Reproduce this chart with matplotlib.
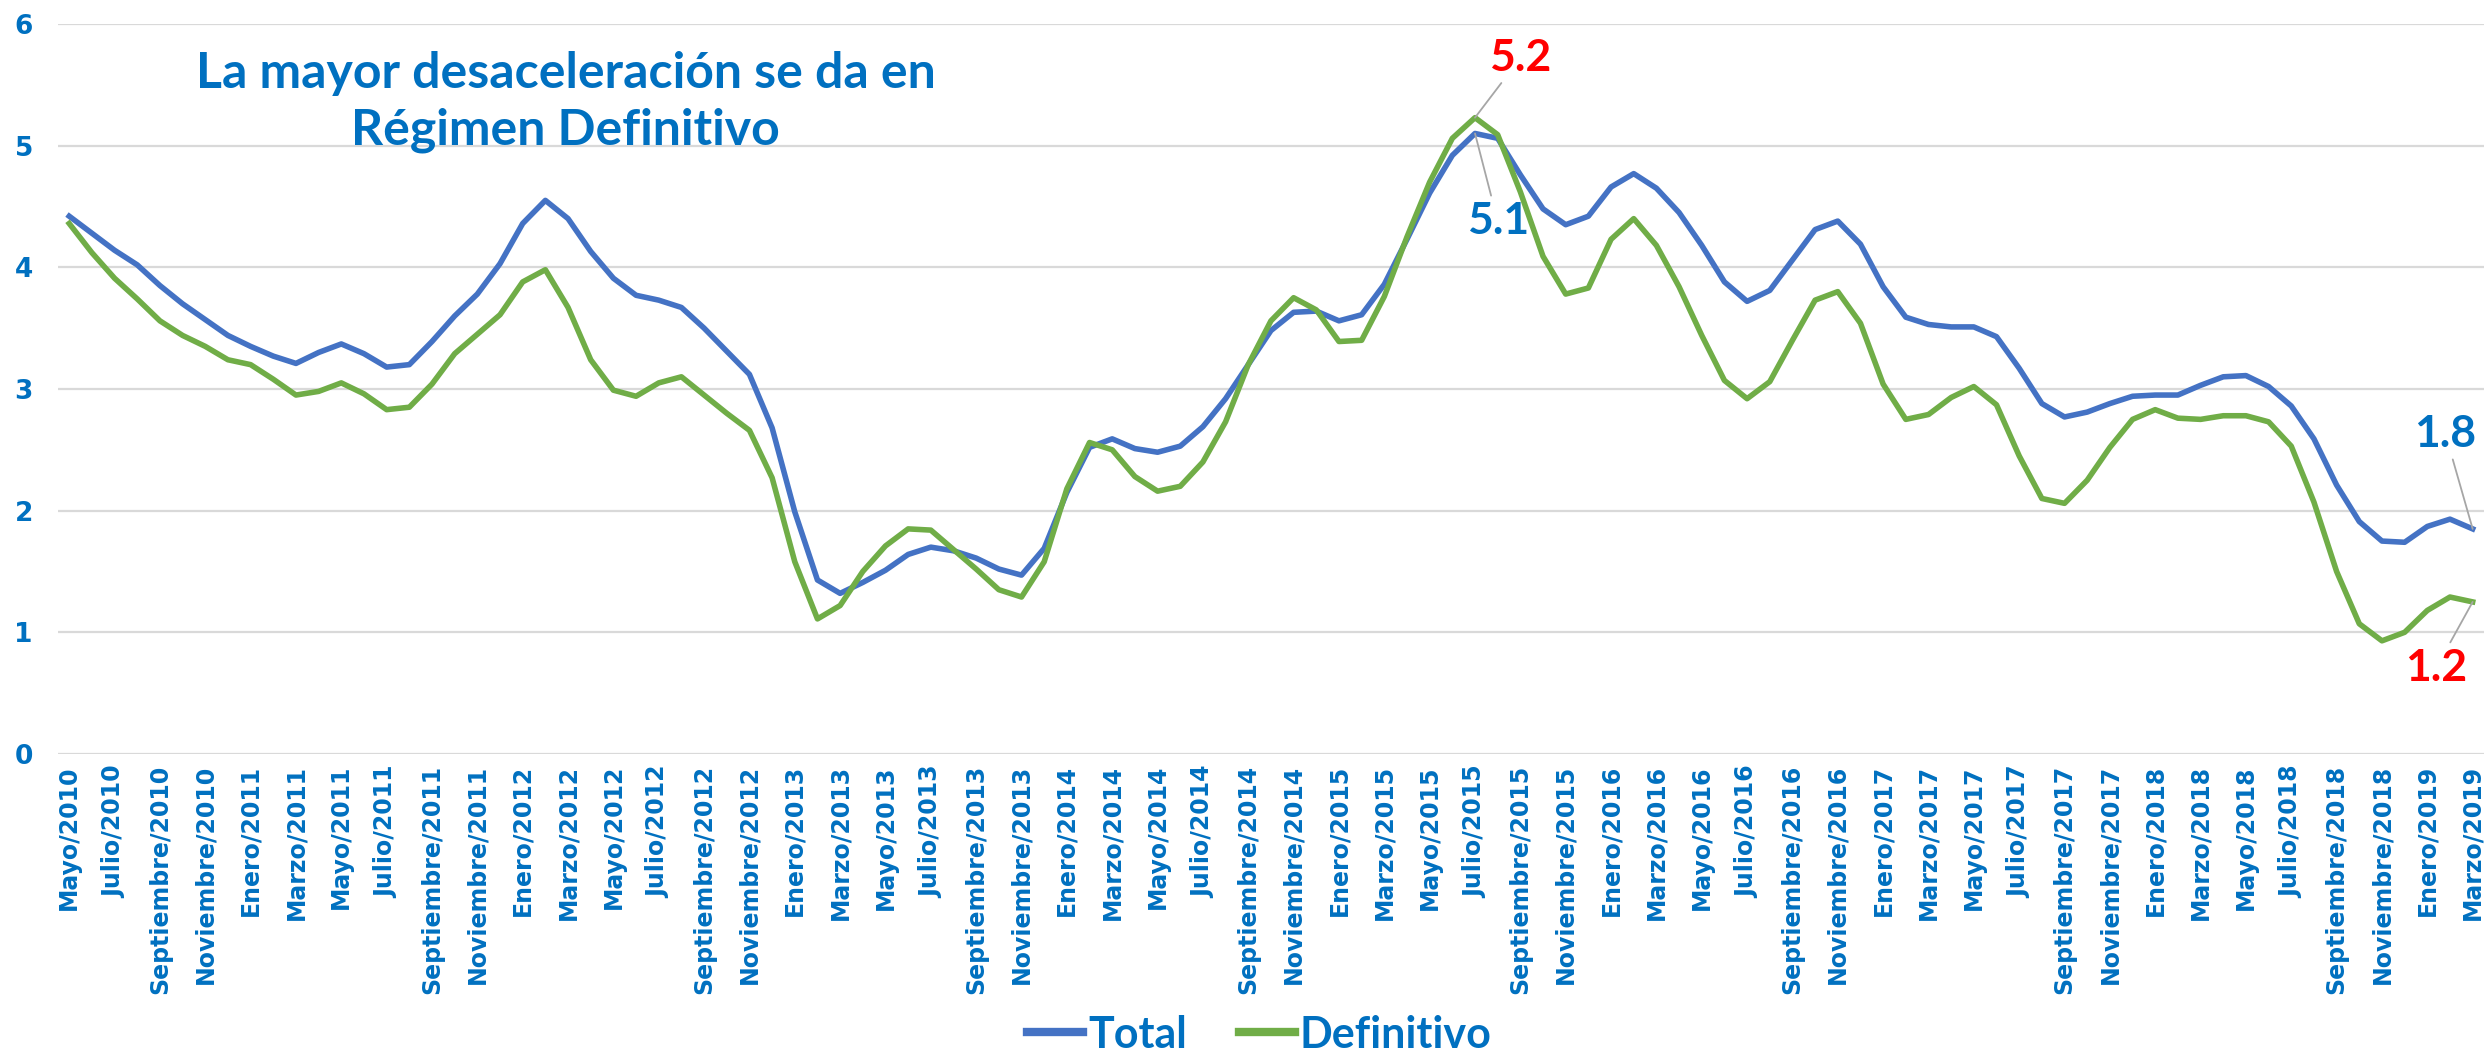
import matplotlib
matplotlib.use("Agg")
import matplotlib.pyplot as plt

# monthly series, Mayo/2010 .. Marzo/2019
meses = ['Enero', 'Febrero', 'Marzo', 'Abril', 'Mayo', 'Junio', 'Julio',
         'Agosto', 'Septiembre', 'Octubre', 'Noviembre', 'Diciembre']
etiquetas = []
for k in range(107):
    m = (4 + k) % 12
    anio = 2010 + (4 + k) // 12
    etiquetas.append(meses[m] + '/' + str(anio))

total = [4.42, 4.28, 4.14, 4.02, 3.85, 3.70, 3.57, 3.44, 3.35, 3.27,
         3.21, 3.30, 3.37, 3.29, 3.18, 3.20, 3.39, 3.60, 3.78, 4.03,
         4.36, 4.55, 4.40, 4.13, 3.91, 3.77, 3.73, 3.67, 3.50, 3.31,
         3.12, 2.68, 1.99, 1.43, 1.32, 1.41, 1.51, 1.64, 1.70, 1.67,
         1.61, 1.52, 1.47, 1.69, 2.15, 2.52, 2.59, 2.51, 2.48, 2.53,
         2.69, 2.92, 3.20, 3.48, 3.63, 3.64, 3.56, 3.61, 3.86, 4.23,
         4.61, 4.92, 5.10, 5.06, 4.76, 4.48, 4.35, 4.42, 4.66, 4.77,
         4.65, 4.45, 4.18, 3.88, 3.72, 3.81, 4.06, 4.31, 4.38, 4.19,
         3.84, 3.59, 3.53, 3.51, 3.51, 3.43, 3.17, 2.88, 2.77, 2.81,
         2.88, 2.94, 2.95, 2.95, 3.03, 3.10, 3.11, 3.02, 2.86, 2.59,
         2.21, 1.91, 1.75, 1.74, 1.87, 1.93, 1.85]

definitivo = [4.36, 4.12, 3.91, 3.74, 3.56, 3.44, 3.35, 3.24, 3.20, 3.08,
              2.95, 2.98, 3.05, 2.96, 2.83, 2.85, 3.04, 3.29, 3.45, 3.61,
              3.88, 3.98, 3.67, 3.24, 2.99, 2.94, 3.05, 3.10, 2.95, 2.80,
              2.66, 2.27, 1.58, 1.11, 1.22, 1.50, 1.71, 1.85, 1.84, 1.68,
              1.52, 1.35, 1.29, 1.58, 2.18, 2.56, 2.50, 2.28, 2.16, 2.20,
              2.40, 2.73, 3.20, 3.56, 3.75, 3.65, 3.39, 3.40, 3.76, 4.25,
              4.70, 5.06, 5.23, 5.09, 4.62, 4.09, 3.78, 3.83, 4.23, 4.40,
              4.18, 3.84, 3.44, 3.07, 2.92, 3.06, 3.40, 3.73, 3.80, 3.54,
              3.04, 2.75, 2.79, 2.93, 3.02, 2.87, 2.45, 2.10, 2.06, 2.25,
              2.52, 2.75, 2.83, 2.76, 2.75, 2.78, 2.78, 2.73, 2.53, 2.07,
              1.50, 1.07, 0.93, 1.00, 1.18, 1.29, 1.25]

azul_txt = '#0070C0'
fig = plt.figure(figsize=(24.84, 10.6), dpi=100)
ax = fig.add_axes([0.0233, 0.2887, 0.9767, 0.6887])

x = list(range(len(total)))
ax.plot(x, total, color='#4472C4', lw=4, label='Total', solid_joinstyle='round')
ax.plot(x, definitivo, color='#70AD47', lw=4, label='Definitivo', solid_joinstyle='round')

ax.set_xlim(-0.5, len(total) - 0.5)
ax.set_ylim(0, 6)
ax.set_yticks(range(7))
ax.grid(axis='y', color='#D9D9D9', lw=1.6)
ax.set_axisbelow(True)
for s in ax.spines.values():
    s.set_visible(False)

ax.set_xticks(x[::2])
ax.set_xticklabels(etiquetas[::2], rotation=90, fontsize=17,
                   fontweight='bold', color=azul_txt, family='DejaVu Sans')
ax.tick_params(axis='x', length=0, pad=8)
ax.tick_params(axis='y', length=0, pad=18, labelsize=19, labelcolor=azul_txt)
for t in ax.get_yticklabels():
    t.set_fontweight('bold')

ax.text(21.9, 5.36, 'La mayor desaceleración se da en\nRégimen Definitivo',
        ha='center', va='center', fontsize=36, fontweight='bold',
        color=azul_txt, family='Lato', linespacing=1.3)

gris = dict(arrowstyle='-', color='#A6A6A6', lw=1.3, shrinkA=2, shrinkB=0)
ax.annotate('5.2', xy=(62, 5.23), xytext=(64.0, 5.72), ha='center', va='center',
            fontsize=32, fontweight='bold', color='#FF0000', family='Lato',
            arrowprops=gris)
ax.annotate('5.1', xy=(62, 5.10), xytext=(63.0, 4.38), ha='center', va='center',
            fontsize=32, fontweight='bold', color=azul_txt, family='Lato',
            arrowprops=gris)
ax.annotate('1.8', xy=(106, 1.85), xytext=(104.8, 2.63), ha='center', va='center',
            fontsize=32, fontweight='bold', color=azul_txt, family='Lato',
            arrowprops=gris)
ax.annotate('1.2', xy=(106, 1.25), xytext=(104.4, 0.71), ha='center', va='center',
            fontsize=32, fontweight='bold', color='#FF0000', family='Lato',
            arrowprops=gris)

leg = fig.legend(loc='center', bbox_to_anchor=(0.507, 0.024), ncol=2,
                 frameon=False, handlelength=1.3, columnspacing=1.2,
                 handletextpad=0.12,
                 prop={'family': 'Lato', 'weight': 'bold', 'size': 31})
for t in leg.get_texts():
    t.set_color(azul_txt)
for h in leg.get_lines():
    h.set_linewidth(6)

fig.savefig('out.png', dpi=100)
